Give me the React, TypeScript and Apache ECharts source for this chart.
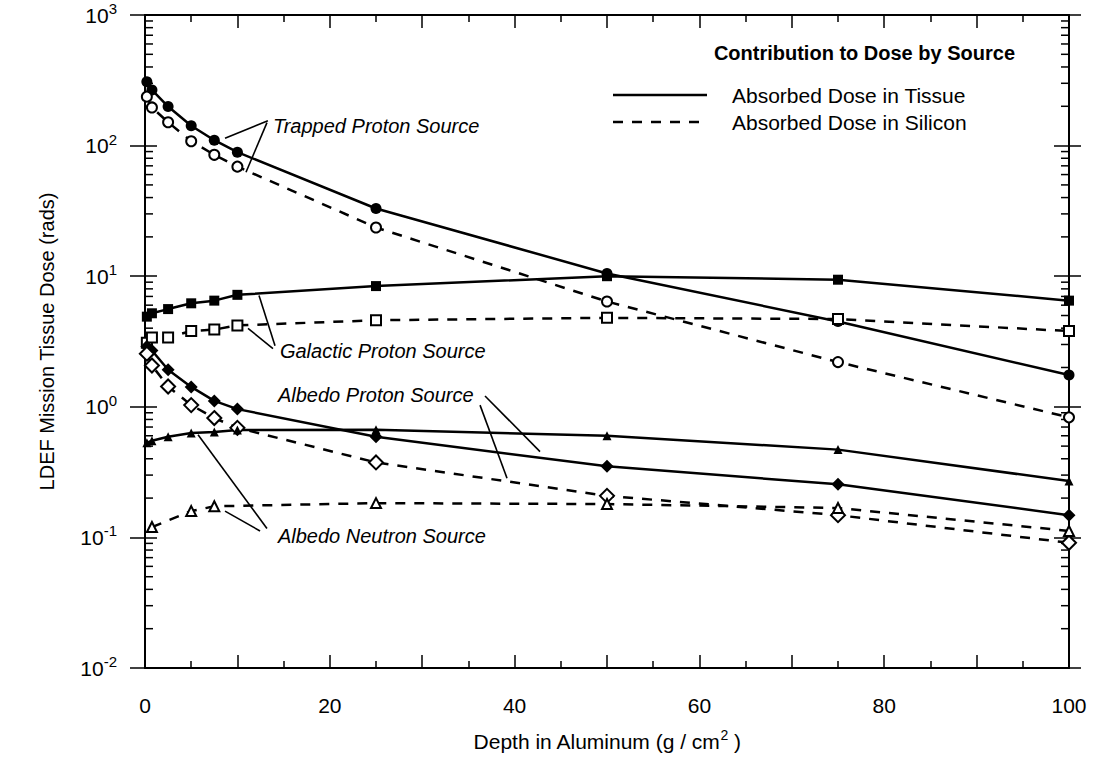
import React, { useEffect, useRef } from 'react';
import * as echarts from 'echarts';

const FONT = '"Liberation Sans", Arial, Helvetica, sans-serif';

// Depths (g/cm^2)
const depthsFull = [0.2, 0.75, 2.5, 5, 7.5, 10, 25, 50, 75, 100];
const depthsNeutronSi = [0.75, 5, 7.5, 25, 50, 75, 100];

// Dose values (rads)
const trappedTissue = [308, 267, 199, 142, 110, 89, 33, 10.5, 4.5, 1.75];
const trappedSilicon = [237, 196, 151, 108, 85, 69, 23.6, 6.4, 2.2, 0.83];
const galacticTissue = [4.9, 5.2, 5.6, 6.2, 6.5, 7.2, 8.4, 10, 9.4, 6.5];
const galacticSilicon = [3.1, 3.4, 3.4, 3.8, 3.9, 4.2, 4.6, 4.8, 4.7, 3.8];
const albedoProtonTissue = [2.9, 2.7, 1.92, 1.42, 1.11, 0.96, 0.59, 0.35, 0.255, 0.148];
const albedoProtonSilicon = [2.55, 2.07, 1.43, 1.03, 0.82, 0.69, 0.375, 0.208, 0.148, 0.091];
const albedoNeutronTissue = [0.53, 0.55, 0.59, 0.63, 0.64, 0.665, 0.667, 0.6, 0.47, 0.27];
const albedoNeutronSilicon = [0.12, 0.159, 0.173, 0.183, 0.18, 0.168, 0.112];

// Log-axis minor tick multipliers and decades
const minorMultipliers = [2, 3, 4, 5, 6, 7, 8, 9];
const decades = [0.01, 0.1, 1, 10, 100];

// Source annotation labels (anchored in data units)
const sourceLabels = ['Trapped Proton Source', 'Galactic Proton Source', 'Albedo Proton Source', 'Albedo Neutron Source'];
const labelAnchors = [[13.85, 142], [14.6, 2.69], [14.39, 1.24], [14.39, 0.103]];
const leaderLines = [
  [[13.3, 155], [8.66, 114]],
  [[13.2, 150], [10.93, 62.5]],
  [[14.07, 2.94], [12.34, 7.11]],
  [[13.85, 2.79], [11.15, 3.99]],
  [[36.8, 1.21], [42.75, 0.454]],
  [[36.26, 1.03], [39.18, 0.284]],
  [[13.2, 0.117], [5.74, 0.61]],
  [[12.45, 0.112], [8.66, 0.159]],
];

const legendTitle = 'Contribution to Dose by Source';
const legendNames = ['Absorbed Dose in Tissue', 'Absorbed Dose in Silicon'];

const DASH = [10, 9];

function makeSeries(name: string, depths: number[], values: number[], dashed: boolean, symbol: string, filled: boolean, size: number) {
  return {
    name,
    type: 'line',
    xAxisIndex: 0,
    yAxisIndex: 0,
    data: depths.map((d, i) => [d, values[i]]),
    symbol,
    symbolSize: size,
    showSymbol: true,
    lineStyle: { color: '#000', width: 2.5, type: dashed ? DASH : 'solid' },
    itemStyle: filled
      ? { color: '#000', borderColor: '#000', borderWidth: 0 }
      : { color: '#fff', borderColor: '#000', borderWidth: 2 },
    emphasis: { disabled: true },
    z: 3,
  };
}

export default function App() {
  const ref = useRef<HTMLDivElement>(null);

  useEffect(() => {
    if (!ref.current) return;
    const chart = echarts.init(ref.current, undefined, { renderer: 'svg' });

    const minorData: number[][] = [];
    decades.forEach((d) => minorMultipliers.forEach((m) => minorData.push([0, d * m])));

    const logBase = {
      type: 'log',
      logBase: 10,
      min: 0.01,
      max: 1000,
      splitNumber: 5,
      splitLine: { show: false },
      minorTick: { show: false },
      minorSplitLine: { show: false },
    };

    const xBase = {
      type: 'value',
      min: 0,
      max: 100,
      interval: 10,
      splitLine: { show: false },
      axisLine: { show: true, lineStyle: { color: '#000', width: 2 } },
      axisTick: { show: true, inside: true, length: 13, lineStyle: { color: '#000', width: 1.5 } },
      minorTick: { show: true, splitNumber: 2, length: 7, lineStyle: { color: '#000', width: 1.5 } },
    };

    const option: any = {
      animation: false,
      backgroundColor: '#fff',
      grid: { left: 145, right: 25, top: 15, bottom: 101, containLabel: false },
      title: {
        text: legendTitle,
        right: 79,
        top: 43,
        padding: 0,
        textStyle: { fontSize: 20, fontWeight: 'bold', fontFamily: FONT, color: '#000' },
      },
      xAxis: [
        {
          ...xBase,
          position: 'bottom',
          axisLabel: {
            show: true,
            margin: 27,
            fontSize: 21,
            fontFamily: FONT,
            color: '#000',
            formatter: (v: number) => (Math.round(v) % 20 === 0 ? String(Math.round(v)) : ''),
          },
          name: '{a|Depth in Aluminum (g / cm}{s|2}{a| )}',
          nameLocation: 'middle',
          nameGap: 60,
          nameTextStyle: {
            rich: {
              a: { fontSize: 21, fontFamily: FONT, color: '#000', lineHeight: 26 },
              s: { fontSize: 14, fontFamily: FONT, color: '#000', lineHeight: 14, verticalAlign: 'top' },
            },
          },
        },
        {
          ...xBase,
          position: 'top',
          axisLabel: { show: false },
        },
      ],
      yAxis: [
        {
          ...logBase,
          position: 'left',
          axisLine: { show: true, lineStyle: { color: '#000', width: 2 } },
          axisTick: { show: true, inside: false, length: 15, lineStyle: { color: '#000', width: 1.5 } },
          axisLabel: {
            show: true,
            margin: 28,
            formatter: (v: number) => `{b|10}{s|${Math.round(Math.log10(v))}}`,
            rich: {
              b: { fontSize: 21, fontFamily: FONT, color: '#000', lineHeight: 28 },
              s: { fontSize: 15, fontFamily: FONT, color: '#000', lineHeight: 15, verticalAlign: 'top' },
            },
          },
          name: 'LDEF Mission Tissue Dose (rads)',
          nameLocation: 'middle',
          nameGap: 88,
          nameTextStyle: { fontSize: 20, fontFamily: FONT, color: '#000' },
        },
        {
          ...logBase,
          position: 'left',
          offset: 0,
          axisLine: { show: false },
          axisTick: { show: true, inside: true, length: 12, lineStyle: { color: '#000', width: 1.5 } },
          axisLabel: { show: false },
        },
        {
          ...logBase,
          position: 'right',
          offset: 0,
          axisLine: { show: true, lineStyle: { color: '#000', width: 2 } },
          axisTick: { show: true, inside: false, length: 12, lineStyle: { color: '#000', width: 1.5 } },
          axisLabel: { show: false },
        },
        {
          ...logBase,
          position: 'right',
          offset: 0,
          axisLine: { show: false },
          axisTick: { show: true, inside: true, length: 15, lineStyle: { color: '#000', width: 1.5 } },
          axisLabel: { show: false },
        },
      ],
      series: [
        {
          type: 'custom',
          name: 'minorTicks',
          xAxisIndex: 0,
          yAxisIndex: 0,
          silent: true,
          clip: false,
          data: minorData,
          encode: { x: 0, y: 1 },
          renderItem: (params: any, api: any) => {
            const v = api.value(1);
            const pL = api.coord([0, v]);
            const pR = api.coord([100, v]);
            const st = { stroke: '#000', lineWidth: 1.5 };
            return {
              type: 'group',
              children: [
                { type: 'line', shape: { x1: pL[0], y1: pL[1], x2: pL[0] + 8, y2: pL[1] }, style: st },
                { type: 'line', shape: { x1: pR[0] - 8, y1: pR[1], x2: pR[0], y2: pR[1] }, style: st },
              ],
            };
          },
          z: 1,
        },
        makeSeries('Trapped Proton Source (Tissue)', depthsFull, trappedTissue, false, 'circle', true, 11),
        makeSeries('Trapped Proton Source (Silicon)', depthsFull, trappedSilicon, true, 'circle', false, 10),
        makeSeries('Galactic Proton Source (Tissue)', depthsFull, galacticTissue, false, 'rect', true, 10),
        makeSeries('Galactic Proton Source (Silicon)', depthsFull, galacticSilicon, true, 'rect', false, 10),
        makeSeries('Albedo Proton Source (Tissue)', depthsFull, albedoProtonTissue, false, 'diamond', true, 13),
        makeSeries('Albedo Proton Source (Silicon)', depthsFull, albedoProtonSilicon, true, 'diamond', false, 14),
        makeSeries('Albedo Neutron Source (Tissue)', depthsFull, albedoNeutronTissue, false, 'triangle', true, 9),
        makeSeries('Albedo Neutron Source (Silicon)', depthsNeutronSi, albedoNeutronSilicon, true, 'triangle', false, 10),
      ],
    };

    chart.setOption(option);

    const toPx = (p: number[]) => chart.convertToPixel({ xAxisIndex: 0, yAxisIndex: 0 } as any, p) as number[];
    const graphics: any[] = [];
    sourceLabels.forEach((t, i) => {
      const p = toPx(labelAnchors[i]);
      graphics.push({
        type: 'text',
        x: p[0],
        y: p[1],
        silent: true,
        style: {
          text: t,
          fontSize: 20,
          fontStyle: 'italic',
          fontFamily: FONT,
          fill: '#000',
          align: 'left',
          verticalAlign: 'middle',
        },
      });
    });
    leaderLines.forEach((ln) => {
      const a = toPx(ln[0]);
      const b = toPx(ln[1]);
      graphics.push({
        type: 'line',
        silent: true,
        shape: { x1: a[0], y1: a[1], x2: b[0], y2: b[1] },
        style: { stroke: '#000', lineWidth: 1.6 },
      });
    });
    // Legend (line samples + texts)
    const legendRows = [95, 122];
    legendNames.forEach((nm, i) => {
      graphics.push({
        type: 'line',
        silent: true,
        shape: { x1: 613, y1: legendRows[i], x2: 707, y2: legendRows[i] },
        style: { stroke: '#000', lineWidth: 2.5, lineDash: i === 0 ? null : DASH },
      });
      graphics.push({
        type: 'text',
        x: 732,
        y: legendRows[i],
        silent: true,
        style: {
          text: nm,
          fontSize: 21,
          fontFamily: FONT,
          fill: '#000',
          align: 'left',
          verticalAlign: 'middle',
        },
      });
    });
    chart.setOption({ graphic: graphics });

    return () => {
      chart.dispose();
    };
  }, []);

  return (
    <div
      ref={ref}
      style={{ position: 'absolute', left: 0, top: 0, width: 1094, height: 769, background: '#fff' }}
    />
  );
}
